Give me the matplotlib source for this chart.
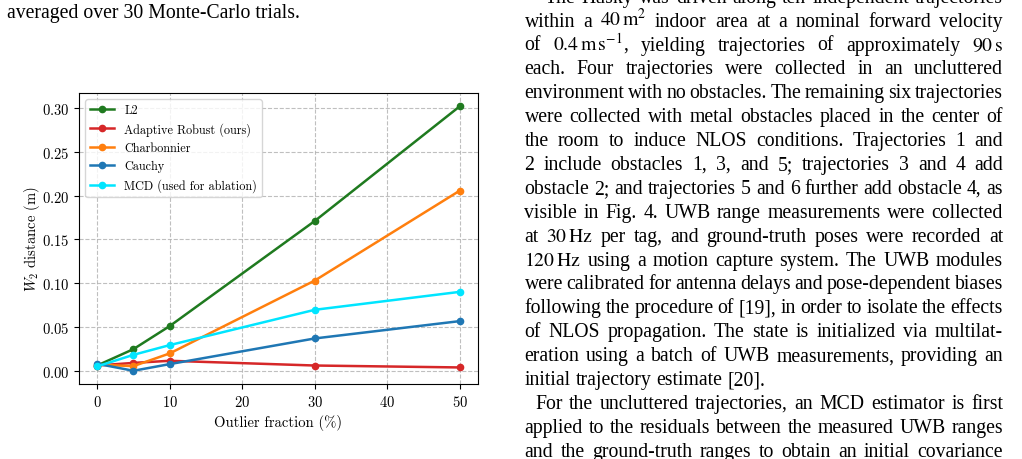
import matplotlib

matplotlib.use("Agg")

import matplotlib.pyplot as plt

W, H = 1022, 460

# data
outlier_pct = [0, 5, 10, 30, 50]
l2 = [0.006, 0.0247, 0.051, 0.171, 0.302]
adaptive = [0.006, 0.009, 0.0114, 0.006, 0.0038]
charbonnier = [0.007, 0.0053, 0.0198, 0.103, 0.2057]
cauchy = [0.008, 0.0, 0.0076, 0.0369, 0.0567]
mcd = [0.005, 0.0182, 0.0293, 0.0696, 0.0901]

series = [
    ("L2", l2, "#1f7a1f"),
    ("Adaptive Robust (ours)", adaptive, "#d62728"),
    ("Charbonnier", charbonnier, "#ff7f0e"),
    ("Cauchy", cauchy, "#1f77b4"),
    ("MCD (used for ablation)", mcd, "#00e5ff"),
]

# surrounding paper text (right column), one entry per printed line
body_lines = [
    "The Husky was driven along ten independent trajectories",
    r"within a $40\,\mathrm{m}^2$ indoor area at a nominal forward velocity",
    r"of $0.4\,\mathrm{m\,s^{-1}}$, yielding trajectories of approximately $90\,\mathrm{s}$",
    "each. Four trajectories were collected in an uncluttered",
    "environment with no obstacles. The remaining six trajectories",
    "were collected with metal obstacles placed in the center of",
    "the room to induce NLOS conditions. Trajectories 1 and",
    "2 include obstacles 1, 3, and 5; trajectories 3 and 4 add",
    "obstacle 2; and trajectories 5 and 6 further add obstacle 4, as",
    "visible in Fig. 4. UWB range measurements were collected",
    r"at $30\,\mathrm{Hz}$ per tag, and ground-truth poses were recorded at",
    r"$120\,\mathrm{Hz}$ using a motion capture system. The UWB modules",
    "were calibrated for antenna delays and pose-dependent biases",
    "following the procedure of [19], in order to isolate the effects",
    "of NLOS propagation. The state is initialized via multilat-",
    "eration using a batch of UWB measurements, providing an",
    "initial trajectory estimate [20].",
    "For the uncluttered trajectories, an MCD estimator is first",
    "applied to the residuals between the measured UWB ranges",
    "and the ground-truth ranges to obtain an initial covariance",
]
indented = {0: 545, 17: 535}
ragged = {16}
caption_tail = "averaged over 30 Monte-Carlo trials."

plt.rcParams.update({
    "font.family": "serif",
    "font.serif": ["cmr10"],
    "mathtext.fontset": "cm",
    "axes.formatter.use_mathtext": True,
})

BODY_SIZE = 14.2
BODY_FONT = "Liberation Serif"


def place_line(fig, renderer, text, x0, x1, y, justify=True):
    words = text.split(" ")
    artists = [
        fig.text(0, 1 - y / H, w, fontsize=BODY_SIZE, family=BODY_FONT,
                 math_fontfamily="stix", va="baseline", ha="left")
        for w in words
    ]
    widths = [a.get_window_extent(renderer).width for a in artists]
    if justify and len(words) > 1:
        gap = (x1 - x0 - sum(widths)) / (len(words) - 1)
    else:
        gap = BODY_SIZE * 100 / 72 * 0.25
    x = x0
    for a, w in zip(artists, widths):
        a.set_x(x / W)
        x += w + gap


def main() -> None:
    fig = plt.figure(figsize=(W / 100, H / 100), dpi=100)
    ax = fig.add_axes([79 / W, 1 - 385 / H, (478 - 79) / W, (385 - 94) / H])

    for label, values, color in series:
        ax.plot(outlier_pct, values, marker="o", markersize=4.5, linewidth=1.8,
                color=color, label=label)

    ax.set_xlabel("Outlier fraction (%)", fontsize=10.5)
    ax.set_ylabel("$W_2$ distance (m)", fontsize=10.5, labelpad=0)
    ax.tick_params(labelsize=10.5)
    ax.set_xticks([0, 10, 20, 30, 40, 50])
    ax.set_yticks([0.0, 0.05, 0.10, 0.15, 0.20, 0.25, 0.30])
    ax.grid(True, linestyle="--", color="#b0b0b0", linewidth=0.8, alpha=0.8)
    ax.legend(loc="upper left", fontsize=8.8, handlelength=2.0)

    renderer = fig.canvas.get_renderer()
    fig.text(6.7 / W, 1 - 18.3 / H, caption_tail, fontsize=BODY_SIZE,
             family=BODY_FONT, va="baseline", ha="left")
    for i, line in enumerate(body_lines):
        y = 2.7 + 23.9 * i
        x0 = indented.get(i, 524.5)
        place_line(fig, renderer, line, x0, 1003, y, justify=i not in ragged)

    fig.savefig("out.png", dpi=100)
    plt.close(fig)


if __name__ == "__main__":
    main()
